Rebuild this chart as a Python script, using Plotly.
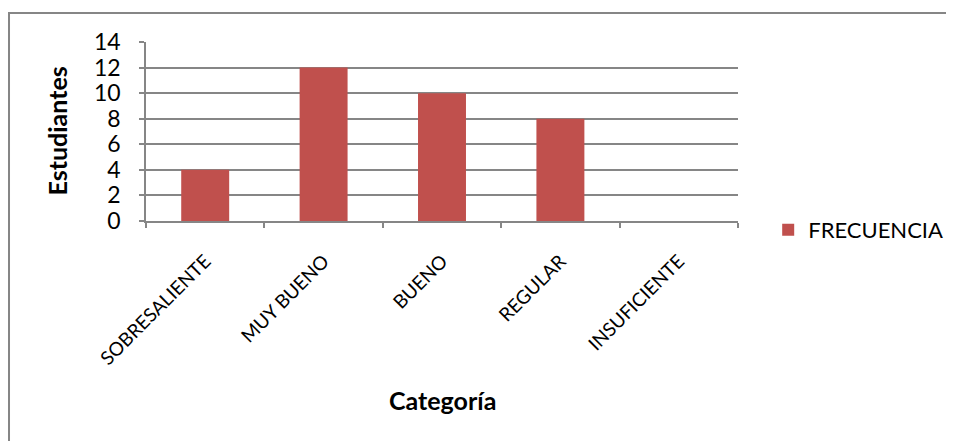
import plotly.graph_objects as go

categories = ["SOBRESALIENTE", "MUY BUENO", "BUENO", "REGULAR", "INSUFICIENTE"]
frecuencia = [4, 12, 10, 8, 0]
y_ticks = [0, 2, 4, 6, 8, 10, 12, 14]

GRAY = "#868686"
FONT = "Lato"

fig = go.Figure()
fig.add_trace(go.Bar(x=categories, y=frecuencia, name="FRECUENCIA",
                     marker=dict(color="#C0504D", line=dict(width=0))))

fig.update_layout(
    width=946, height=433,
    margin=dict(l=138, r=216, t=34, b=220, autoexpand=False),
    paper_bgcolor="white", plot_bgcolor="white",
    bargap=0.595,
    font=dict(family=FONT, color="black"),
    showlegend=True,
    legend=dict(x=1.051, y=-0.05, xanchor="left", yanchor="middle",
                font=dict(size=22, family=FONT), itemwidth=30,
                bgcolor="rgba(0,0,0,0)"),
    xaxis=dict(type="category", tickson="boundaries", ticks="outside", ticklen=5,
               tickcolor=GRAY, tickwidth=1.5, showline=True, linecolor=GRAY, linewidth=1.5,
               showgrid=False, tickangle=-45, tickfont=dict(size=19, family=FONT),
               range=[-0.5, 4.5], ticklabelstandoff=20, automargin=False),
    yaxis=dict(range=[0, 14], tickvals=y_ticks, ticks="outside", ticklen=5,
               tickcolor=GRAY, tickwidth=1.5, showline=True, linecolor=GRAY, linewidth=1.5,
               showgrid=True, gridcolor=GRAY, gridwidth=1.5, zeroline=False,
               tickfont=dict(size=23, family=FONT), ticklabelstandoff=14, automargin=False),
    annotations=[
        dict(text="<b>Estudiantes</b>", x=-0.152, y=0.5, xref="paper", yref="paper",
             textangle=-90, showarrow=False, xanchor="center", yanchor="middle",
             font=dict(size=25, family=FONT)),
        dict(text="<b>Categoría</b>", x=0.5, y=-1.0, xref="paper", yref="paper",
             showarrow=False, xanchor="center", yanchor="middle",
             font=dict(size=25, family=FONT)),
    ],
    shapes=[dict(type="rect", xref="paper", yref="paper",
                 x0=-0.2314, x1=1.6, y0=-1.35, y1=1.162,
                 line=dict(color=GRAY, width=2), layer="below")],
)

fig.write_html("out.html")
